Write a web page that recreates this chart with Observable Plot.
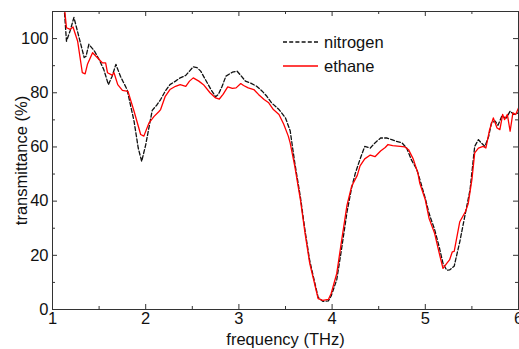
<!DOCTYPE html>
<html>
<head>
<meta charset="utf-8">
<script src="https://cdn.jsdelivr.net/npm/d3@7"></script>
<script src="https://cdn.jsdelivr.net/npm/@observablehq/plot@0.6"></script>
<style>
  html, body { margin: 0; padding: 0; background: #fff; }
  #wrap { position: relative; width: 519px; height: 349px; overflow: hidden; font-family: "Liberation Sans", Arial, sans-serif; }
  #legend { position: absolute; left: 283px; top: 30px; font-size: 16.5px; color: #111; }
  .row { display: flex; align-items: center; height: 24px; }
  .row svg { margin-right: 6px; }
</style>
</head>
<body>
<div id="wrap"></div>
<script>
// Data
const seriesNames = ["nitrogen", "ethane"];
const seriesColors = ["#111111", "#ff0000"];

const nitrogenFreq = [1.12, 1.15, 1.19, 1.23, 1.285, 1.34, 1.36, 1.39, 1.45, 1.50, 1.55, 1.60, 1.64, 1.68, 1.73, 1.80, 1.875, 1.92, 1.957, 2.00, 2.07, 2.12, 2.16, 2.21, 2.26, 2.32, 2.37, 2.43, 2.47, 2.51, 2.55, 2.59, 2.64, 2.70, 2.75, 2.78, 2.82, 2.86, 2.93, 2.98, 3.02, 3.07, 3.12, 3.19, 3.25, 3.30, 3.35, 3.43, 3.50, 3.55, 3.60, 3.66, 3.71, 3.76, 3.82, 3.85, 3.90, 3.96, 3.99, 4.05, 4.10, 4.16, 4.21, 4.25, 4.30, 4.35, 4.41, 4.46, 4.52, 4.59, 4.64, 4.69, 4.75, 4.80, 4.85, 4.91, 4.95, 5.00, 5.04, 5.10, 5.15, 5.19, 5.23, 5.26, 5.31, 5.37, 5.43, 5.48, 5.53, 5.57, 5.60, 5.64, 5.68, 5.71, 5.75, 5.78, 5.82, 5.87, 5.91, 5.95, 6.00];
const nitrogen = [114, 99, 103, 107.8, 100.4, 93, 93.5, 97.9, 95.4, 92.3, 88.6, 83, 86.1, 90.5, 86, 81.2, 69.5, 59.6, 54.7, 60.8, 73.5, 75.5, 77.5, 80.6, 83, 84.3, 85.5, 86.4, 88, 89.6, 89.3, 88, 84.9, 81.2, 78.5, 79.4, 82.4, 86.1, 87.6, 88, 86.4, 84.3, 83.7, 82.4, 80.6, 78.7, 76.3, 73.8, 70.7, 66, 54, 41.5, 29, 18, 9, 4.5, 3, 3.2, 5, 11, 22, 36, 45, 50.4, 55.5, 60.2, 59.6, 61.5, 63.3, 63.3, 62.7, 62.1, 61.5, 59.6, 55.3, 51.6, 47, 41, 35.5, 29.5, 23, 17, 14.5, 14.6, 16, 25, 35.5, 44.2, 60.2, 62.7, 61.5, 60.2, 63.9, 68.9, 69.5, 68, 71.3, 70.7, 73.2, 72, 72.6];

const ethaneFreq = [1.12, 1.15, 1.19, 1.22, 1.27, 1.32, 1.35, 1.375, 1.43, 1.48, 1.536, 1.57, 1.59, 1.64, 1.66, 1.70, 1.75, 1.81, 1.875, 1.946, 1.98, 2.036, 2.09, 2.14, 2.16, 2.21, 2.26, 2.32, 2.37, 2.43, 2.47, 2.51, 2.57, 2.62, 2.69, 2.75, 2.79, 2.83, 2.88, 2.93, 2.97, 3.02, 3.05, 3.10, 3.16, 3.21, 3.27, 3.32, 3.37, 3.43, 3.48, 3.53, 3.55, 3.60, 3.66, 3.71, 3.76, 3.82, 3.85, 3.90, 3.96, 3.99, 4.05, 4.10, 4.16, 4.21, 4.27, 4.30, 4.35, 4.41, 4.46, 4.52, 4.57, 4.60, 4.65, 4.73, 4.78, 4.82, 4.87, 4.92, 4.94, 5.00, 5.04, 5.10, 5.15, 5.19, 5.23, 5.26, 5.29, 5.31, 5.37, 5.43, 5.46, 5.50, 5.53, 5.57, 5.62, 5.65, 5.69, 5.73, 5.77, 5.80, 5.83, 5.85, 5.88, 5.91, 5.94, 5.97, 6.00];
const ethane = [114, 104, 103.4, 104.3, 99, 87.4, 87, 90.5, 94.8, 93, 91, 91, 87.4, 86.5, 87.4, 83, 80.9, 80.5, 73.2, 64.6, 64, 68.9, 71.3, 73, 73.8, 78.7, 81.2, 82.4, 83, 82.4, 84.3, 85.5, 84.3, 83, 80, 78.1, 77.7, 79.4, 82.2, 81.6, 81.8, 83.4, 82.7, 81.8, 81.2, 79.4, 77.5, 76.3, 73.8, 72, 68.5, 64, 61.5, 52.8, 40.5, 28.1, 17, 8.4, 4, 3.4, 3.7, 5.9, 13.3, 25, 38.5, 45.5, 49.5, 53, 55.6, 57, 56.4, 58.5, 59.8, 60.9, 60.5, 60.2, 60, 59, 55.6, 50.4, 46.7, 40.5, 33.7, 28.1, 20.7, 15.2, 17, 18.3, 21.3, 21.5, 32.4, 36.1, 39, 47.9, 57.8, 59.6, 60.2, 59.6, 66.4, 70.7, 67, 66.4, 72, 70.1, 72, 65.8, 72.6, 72, 74.4];

const xTicks = [1, 2, 3, 4, 5, 6];
const xMinorTicks = [1.5, 2.5, 3.5, 4.5, 5.5];
const yTicks = [0, 20, 40, 60, 80, 100];
const yMinorTicks = [10, 30, 50, 70, 90];

const xLabel = "frequency (THz)";
const yLabel = "transmittance (%)";

const W = 519, H = 349;
const mL = 52, mR = 1, mT = 11, mB = 40;
const innerH = H - mT - mB, innerW = W - mL - mR;

const nData = nitrogenFreq.map((f, i) => ({f, v: nitrogen[i]}));
const eData = ethaneFreq.map((f, i) => ({f, v: ethane[i]}));

const axisColor = "#333";

const chart = Plot.plot({
  width: W, height: H,
  marginLeft: mL, marginRight: mR, marginTop: mT, marginBottom: mB,
  style: {fontFamily: "'Liberation Sans', Arial, sans-serif", fontSize: "16.5px", color: "#111", background: "#fff", overflow: "visible"},
  x: {domain: [1, 6]},
  y: {domain: [0, 110]},
  marks: [
    Plot.line(nData, {x: "f", y: "v", stroke: seriesColors[0], strokeWidth: 1.3, strokeDasharray: "4,2.2", clip: true}),
    Plot.line(eData, {x: "f", y: "v", stroke: seriesColors[1], strokeWidth: 1.3, clip: true}),
    Plot.frame({stroke: axisColor, strokeWidth: 1}),
    // inward ticks, bottom & top
    Plot.tickX(xTicks, {x: d => d, stroke: axisColor, insetTop: innerH - 5}),
    Plot.tickX(xTicks, {x: d => d, stroke: axisColor, insetBottom: innerH - 5}),
    Plot.tickX(xMinorTicks, {x: d => d, stroke: axisColor, insetTop: innerH - 3}),
    Plot.tickX(xMinorTicks, {x: d => d, stroke: axisColor, insetBottom: innerH - 3}),
    // inward ticks, left & right
    Plot.tickY(yTicks, {y: d => d, stroke: axisColor, insetRight: innerW - 5}),
    Plot.tickY(yTicks, {y: d => d, stroke: axisColor, insetLeft: innerW - 5}),
    Plot.tickY(yMinorTicks, {y: d => d, stroke: axisColor, insetRight: innerW - 3}),
    Plot.tickY(yMinorTicks, {y: d => d, stroke: axisColor, insetLeft: innerW - 3}),
    Plot.axisX({ticks: xTicks, tickFormat: d3.format("d"), tickSize: 0, tickPadding: 3, fontSize: 16.5, label: xLabel, labelAnchor: "center", labelArrow: "none", labelOffset: 35}),
    Plot.axisY({ticks: yTicks, tickFormat: d3.format("d"), tickSize: 0, tickPadding: 4, fontSize: 16.5, label: yLabel, labelAnchor: "center", labelArrow: "none", labelOffset: 37})
  ]
});

const wrap = document.getElementById("wrap");
wrap.appendChild(chart);

// Legend
const legend = document.createElement("div");
legend.id = "legend";
const dashes = ["4,2.2", null];
seriesNames.forEach((name, i) => {
  const row = document.createElement("div");
  row.className = "row";
  const s = d3.create("svg").attr("width", 35).attr("height", 4);
  s.append("line").attr("x1", 0).attr("x2", 35).attr("y1", 2).attr("y2", 2)
    .attr("stroke", seriesColors[i]).attr("stroke-width", 1.3)
    .attr("stroke-dasharray", dashes[i]);
  row.appendChild(s.node());
  const t = document.createElement("span");
  t.textContent = name;
  row.appendChild(t);
  legend.appendChild(row);
});
wrap.appendChild(legend);
</script>
</body>
</html>
